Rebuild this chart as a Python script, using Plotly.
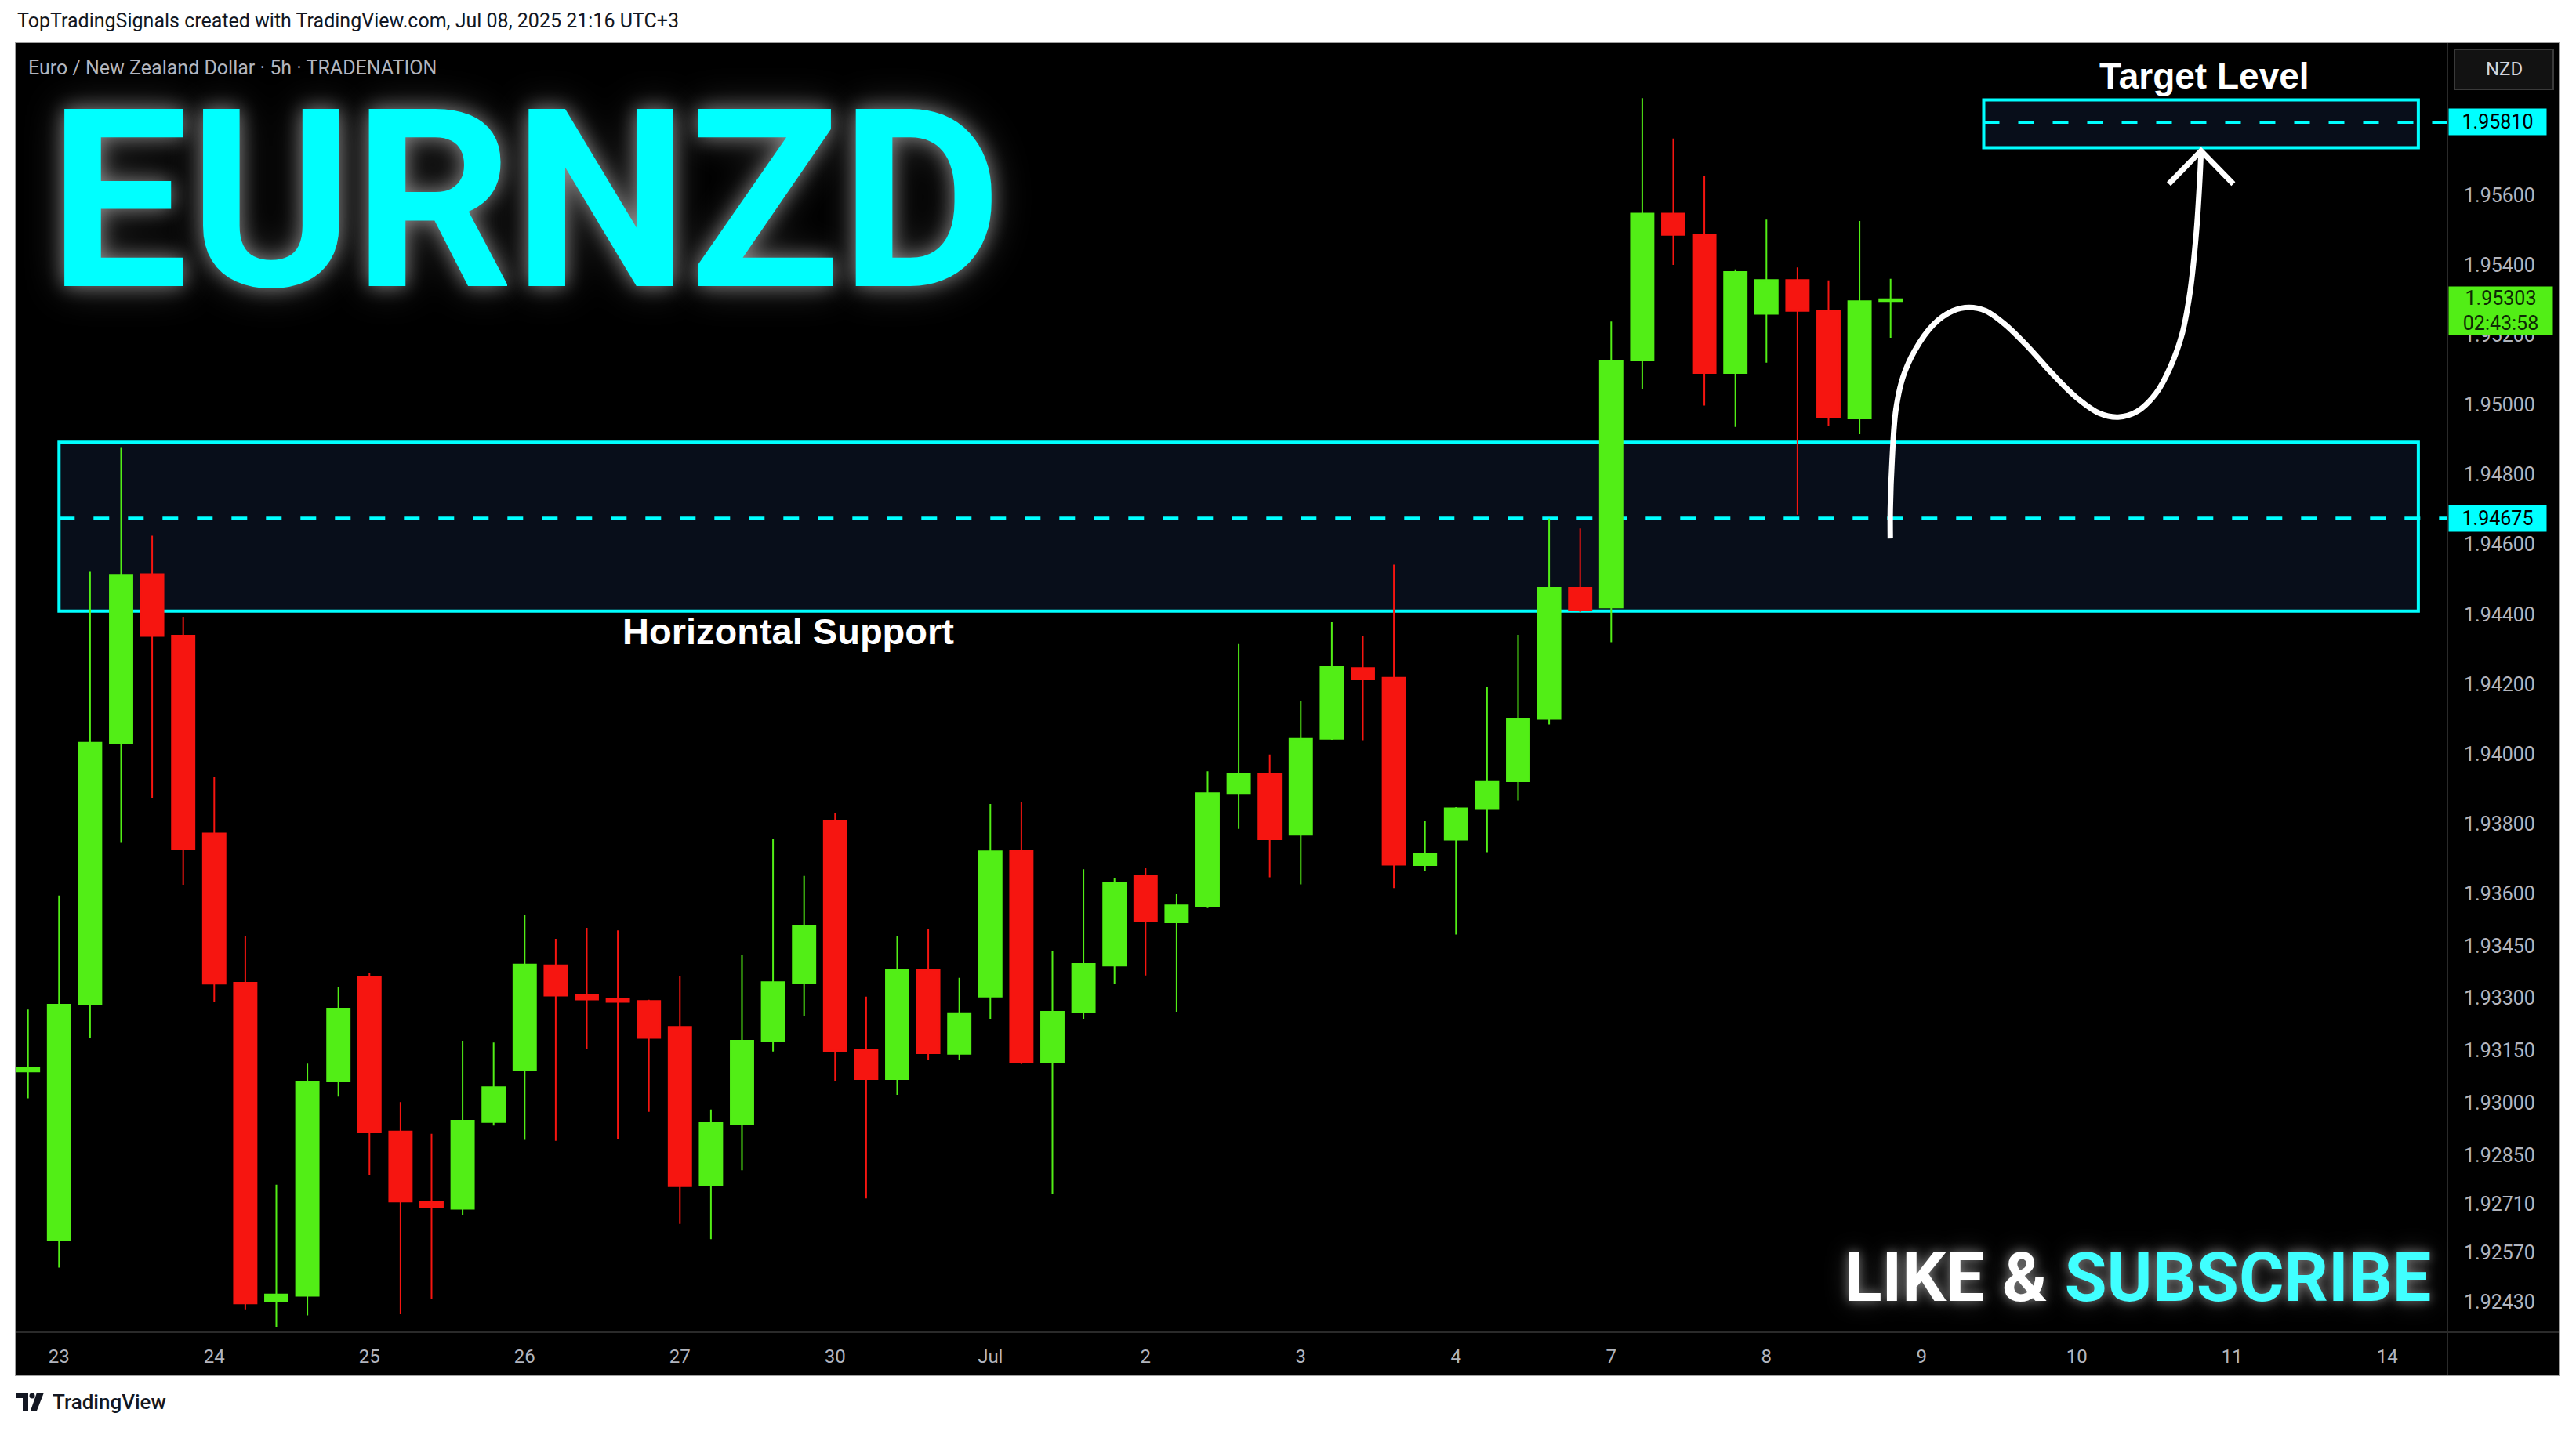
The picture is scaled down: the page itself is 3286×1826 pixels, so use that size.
import plotly.graph_objects as go

# ---------------- data ----------------
bar_index = list(range(61))
opens = [1.93090, 1.92605, 1.93281, 1.94030, 1.94515, 1.94339, 1.93772, 1.93344, 1.92430, 1.92447,
         1.93061, 1.93360, 1.92918, 1.92717, 1.92696, 1.92945, 1.93095, 1.93394, 1.93310, 1.93298,
         1.93292, 1.93218, 1.92764, 1.92940, 1.93176, 1.93344, 1.93809, 1.93151, 1.93068, 1.93381,
         1.93140, 1.93304, 1.93723, 1.93115, 1.93259, 1.93393, 1.93650, 1.93517, 1.93564, 1.93887,
         1.93943, 1.93768, 1.94043, 1.94246, 1.94218, 1.93681, 1.93754, 1.93844, 1.93921, 1.94100,
         1.94476, 1.94419, 1.95127, 1.95548, 1.95487, 1.95091, 1.95261, 1.95358, 1.95270, 1.94961,
         1.95297]
highs = [1.93267, 1.93594, 1.94522, 1.94877, 1.94625, 1.94393, 1.93934, 1.93477, 1.92765, 1.93112,
         1.93332, 1.93373, 1.93002, 1.92911, 1.93178, 1.93173, 1.93539, 1.93470, 1.93501, 1.93494,
         1.93295, 1.93362, 1.92981, 1.93425, 1.93757, 1.93650, 1.93831, 1.93304, 1.93477, 1.93499,
         1.93358, 1.93856, 1.93861, 1.93434, 1.93669, 1.93645, 1.93674, 1.93598, 1.93950, 1.94315,
         1.93998, 1.94152, 1.94377, 1.94339, 1.94542, 1.93809, 1.93847, 1.94191, 1.94341, 1.94674,
         1.94646, 1.95239, 1.95879, 1.95763, 1.95655, 1.95388, 1.95531, 1.95394, 1.95357, 1.95527,
         1.95361]
lows = [1.93013, 1.92528, 1.93186, 1.93745, 1.93874, 1.93625, 1.93289, 1.92408, 1.92358, 1.92391,
        1.93018, 1.92794, 1.92394, 1.92437, 1.92679, 1.92935, 1.92894, 1.92891, 1.93155, 1.92897,
        1.92974, 1.92653, 1.92609, 1.92807, 1.93147, 1.93248, 1.93063, 1.92726, 1.93023, 1.93122,
        1.93122, 1.93241, 1.93111, 1.92739, 1.93241, 1.93342, 1.93365, 1.93261, 1.93560, 1.93785,
        1.93646, 1.93626, 1.94040, 1.94039, 1.93615, 1.93663, 1.93482, 1.93718, 1.93866, 1.94084,
        1.94406, 1.94320, 1.95046, 1.95401, 1.94998, 1.94937, 1.95121, 1.94685, 1.94939, 1.94916,
        1.95192]
closes = [1.93100, 1.93281, 1.94032, 1.94511, 1.94338, 1.93728, 1.93341, 1.92425, 1.92451, 1.93061,
          1.93270, 1.92915, 1.92717, 1.92700, 1.92949, 1.93045, 1.93396, 1.93307, 1.93296, 1.93289,
          1.93186, 1.92761, 1.92942, 1.93178, 1.93346, 1.93508, 1.93147, 1.93068, 1.93381, 1.93142,
          1.93257, 1.93721, 1.93115, 1.93261, 1.93398, 1.93631, 1.93519, 1.93566, 1.93887, 1.93943,
          1.93755, 1.94043, 1.94249, 1.94213, 1.93682, 1.93713, 1.93844, 1.93922, 1.94101, 1.94476,
          1.94411, 1.95127, 1.95548, 1.95487, 1.95091, 1.95381, 1.95358, 1.95269, 1.94964, 1.95297,
          1.95303]

day_tick_index = [1, 6, 11, 16, 21, 26, 31, 36, 41, 46, 51, 56, 61, 66, 71, 76]
day_tick_labels = ["23", "24", "25", "26", "27", "30", "Jul", "2", "3", "4", "7", "8", "9", "10", "11", "14"]

price_ticks = [1.92430, 1.92570, 1.92710, 1.92850, 1.93000, 1.93150, 1.93300, 1.93450, 1.93600,
               1.93800, 1.94000, 1.94200, 1.94400, 1.94600, 1.94800, 1.95000, 1.95200, 1.95400, 1.95600]
price_tick_labels = [f"{v:.5f}" for v in price_ticks]

support_top = 1.94893
support_bottom = 1.94409
support_level = 1.94675
support_start, support_end = 1, 77
target_top = 1.95874
target_bottom = 1.95737
target_level = 1.95810
target_start, target_end = 63, 77
last_price = closes[-1]
countdown = "02:43:58"

# hand-drawn projection path (bar index, price)
path_index = [59.99, 59.99, 60.05, 60.17, 60.40, 60.78, 61.39, 62.00, 62.53, 63.07, 63.68, 64.44,
              65.20, 65.96, 66.72, 67.33, 67.94, 68.55, 69.01, 69.39, 69.65, 69.85, 69.96, 70.00]
path_price = [1.94617, 1.94702, 1.94844, 1.94986, 1.95080, 1.95156, 1.95231, 1.95269, 1.95279,
              1.95269, 1.95231, 1.95165, 1.95090, 1.95023, 1.94976, 1.94965, 1.94981, 1.95033,
              1.95108, 1.95203, 1.95326, 1.95496, 1.95647, 1.95723]
arrow_index = [68.96, 70.00, 71.04]
arrow_price = [1.95633, 1.95728, 1.95633]

x_range = [-0.371, 77.937]
y_range = [1.923425, 1.960366]

# ---------------- styling ----------------
W, H = 3286, 1826
ML, MR, MT, MB = 21, 164, 55, 126
PW = W - ML - MR
PH = H - MT - MB


def px_x(x):
    return (x - ML) / PW


def px_y(y):
    return (H - MB - y) / PH


GREEN = "#52EE16"
RED = "#F61510"
CYAN = "#00FFFF"
AXIS_TXT = "#B2B5BE"
UI_FONT = "Roboto, Liberation Sans, Arial, sans-serif"
DISPLAY_FONT = "Roboto, Liberation Sans, sans-serif"

fig = go.Figure()

fig.add_trace(go.Candlestick(
    x=bar_index, open=opens, high=highs, low=lows, close=closes,
    increasing=dict(line=dict(color=GREEN, width=2), fillcolor=GREEN),
    decreasing=dict(line=dict(color=RED, width=2), fillcolor=RED),
    whiskerwidth=0, hoverinfo="skip", showlegend=False,
))

fig.add_trace(go.Scatter(
    x=path_index, y=path_price, mode="lines",
    line=dict(color="white", width=7, shape="spline", smoothing=1.0),
    hoverinfo="skip", showlegend=False,
))
fig.add_trace(go.Scatter(
    x=arrow_index, y=arrow_price, mode="lines",
    line=dict(color="white", width=7),
    hoverinfo="skip", showlegend=False,
))

shapes = []
# black chart pane (incl. axis areas)
shapes.append(dict(type="rect", xref="paper", yref="paper", x0=px_x(21), x1=px_x(3264),
                   y0=px_y(1754), y1=px_y(55), fillcolor="black", line=dict(width=0), layer="below"))
# support zone
shapes.append(dict(type="rect", xref="x", yref="y", x0=support_start, x1=support_end,
                   y0=support_bottom, y1=support_top, fillcolor="#080E1A",
                   line=dict(color=CYAN, width=4), layer="below"))
shapes.append(dict(type="line", xref="x", yref="y", x0=support_start, x1=x_range[1],
                   y0=support_level, y1=support_level,
                   line=dict(color=CYAN, width=4, dash="20px,24px"), layer="below"))
# target zone
shapes.append(dict(type="rect", xref="x", yref="y", x0=target_start, x1=target_end,
                   y0=target_bottom, y1=target_top, fillcolor="#080E1A",
                   line=dict(color=CYAN, width=4), layer="below"))
shapes.append(dict(type="line", xref="x", yref="y", x0=target_start, x1=x_range[1],
                   y0=target_level, y1=target_level,
                   line=dict(color=CYAN, width=4, dash="20px,24px"), layer="below"))
# separators
shapes.append(dict(type="line", xref="paper", yref="paper", x0=px_x(21), x1=px_x(3264),
                   y0=0, y1=0, line=dict(color="#2A2A2A", width=2)))
shapes.append(dict(type="line", xref="paper", yref="paper", x0=1, x1=1,
                   y0=px_y(1754), y1=px_y(55), line=dict(color="#2A2A2A", width=2)))
# pane border
shapes.append(dict(type="rect", xref="paper", yref="paper", x0=px_x(20), x1=px_x(3265),
                   y0=px_y(1755), y1=px_y(54), line=dict(color="#A0A0A0", width=2)))
# NZD currency box
shapes.append(dict(type="rect", xref="paper", yref="paper", x0=px_x(3131), x1=px_x(3257),
                   y0=px_y(114), y1=px_y(63), fillcolor="#121212",
                   line=dict(color="#3A3A3A", width=2)))
# TradingView logo
shapes.append(dict(type="rect", xref="paper", yref="paper", x0=px_x(21), x1=px_x(36),
                   y0=px_y(1784), y1=px_y(1777), fillcolor="#131722", line=dict(width=0)))
shapes.append(dict(type="rect", xref="paper", yref="paper", x0=px_x(29), x1=px_x(36),
                   y0=px_y(1800), y1=px_y(1777), fillcolor="#131722", line=dict(width=0)))
shapes.append(dict(type="circle", xref="paper", yref="paper", x0=px_x(37.5), x1=px_x(44.5),
                   y0=px_y(1784.5), y1=px_y(1777.5), fillcolor="#131722", line=dict(width=0)))
shapes.append(dict(type="path", xref="paper", yref="paper",
                   path=f"M {px_x(47)},{px_y(1777)} L {px_x(56)},{px_y(1777)} L {px_x(47)},{px_y(1800)} L {px_x(39)},{px_y(1800)} Z",
                   fillcolor="#131722", line=dict(width=0)))

annotations = []
annotations.append(dict(xref="paper", yref="paper", x=px_x(20), y=px_y(27), xanchor="left", yanchor="middle",
                        text="TopTradingSignals created with TradingView.com, Jul 08, 2025 21:16 UTC+3",
                        showarrow=False, font=dict(family=UI_FONT, size=25, color="#131722")))
annotations.append(dict(xref="paper", yref="paper", x=px_x(34), y=px_y(87), xanchor="left", yanchor="middle",
                        text="Euro / New Zealand Dollar · 5h · TRADENATION",
                        showarrow=False, font=dict(family=UI_FONT, size=25, color=AXIS_TXT)))
annotations.append(dict(xref="paper", yref="paper", x=px_x(670), y=px_y(256), xanchor="center", yanchor="middle",
                        text="EURNZD", showarrow=False,
                        font=dict(family=DISPLAY_FONT, size=318, color=CYAN, weight=700,
                                  shadow="0px 0px 25px rgba(255,255,255,0.45), 0px 0px 50px rgba(255,255,255,0.25)")))
annotations.append(dict(xref="paper", yref="paper", x=px_x(2727), y=px_y(1629), xanchor="center", yanchor="middle",
                        text="LIKE & <span style='color:#40FFFF'>SUBSCRIBE</span>", showarrow=False,
                        font=dict(family=DISPLAY_FONT, size=88, color="white", weight=700,
                                  shadow="0px 0px 14px rgba(255,255,255,0.45), 0px 0px 30px rgba(255,255,255,0.25)")))
annotations.append(dict(xref="x", yref="y", x=24.5, y=support_bottom, yshift=-26, xanchor="center", yanchor="middle",
                        text="Horizontal Support", showarrow=False,
                        font=dict(family="Liberation Sans, Arial, sans-serif", size=47, color="white", weight=700)))
annotations.append(dict(xref="x", yref="y", x=70.1, y=target_top, yshift=30, xanchor="center", yanchor="middle",
                        text="Target Level", showarrow=False,
                        font=dict(family="Liberation Sans, Arial, sans-serif", size=46, color="white", weight=700)))
# axis price labels
for lvl in (target_level, support_level):
    annotations.append(dict(xref="paper", yref="y", x=px_x(3123), y=lvl, xanchor="left", yanchor="middle",
                            text=f"{lvl:.5f}", showarrow=False, bgcolor=CYAN, width=124, height=33,
                            align="center", borderpad=0,
                            font=dict(family=UI_FONT, size=25, color="#000000")))
annotations.append(dict(xref="paper", yref="y", x=px_x(3123), y=last_price, yshift=-15, xanchor="left",
                        yanchor="middle", text=f"{last_price:.5f}<br>{countdown}", showarrow=False,
                        bgcolor=GREEN, width=132, height=61, align="center", borderpad=0,
                        font=dict(family=UI_FONT, size=25, color="#0E2A05")))
annotations.append(dict(xref="paper", yref="paper", x=px_x(3194), y=px_y(88), xanchor="center", yanchor="middle",
                        text="NZD", showarrow=False, font=dict(family=UI_FONT, size=24, color="#D1D4DC")))
annotations.append(dict(xref="paper", yref="paper", x=px_x(65), y=px_y(1789), xanchor="left", yanchor="middle",
                        text="TradingView", showarrow=False,
                        font=dict(family=UI_FONT, size=26, color="#131722", weight=500)))

fig.update_layout(
    width=W, height=H, autosize=False,
    margin=dict(l=ML, r=MR, t=MT, b=MB, pad=0),
    paper_bgcolor="white", plot_bgcolor="black",
    showlegend=False, boxgap=0.27, boxgroupgap=0,
    shapes=shapes, annotations=annotations,
    hovermode=False,
    xaxis=dict(range=x_range, tickmode="array", tickvals=day_tick_index, ticktext=day_tick_labels,
               showgrid=False, zeroline=False, showline=False, ticks="",
               ticklabelstandoff=14,
               tickfont=dict(family=UI_FONT, size=24, color=AXIS_TXT),
               rangeslider=dict(visible=False), fixedrange=True),
    yaxis=dict(range=y_range, side="right", tickmode="array", tickvals=price_ticks,
               ticktext=price_tick_labels, showgrid=False, zeroline=False, showline=False,
               ticks="", ticklabelstandoff=20,
               tickfont=dict(family=UI_FONT, size=25, color=AXIS_TXT), fixedrange=True),
)

fig.write_html("out.html", config={"displayModeBar": False},
               post_script="document.body.style.margin='0';")
